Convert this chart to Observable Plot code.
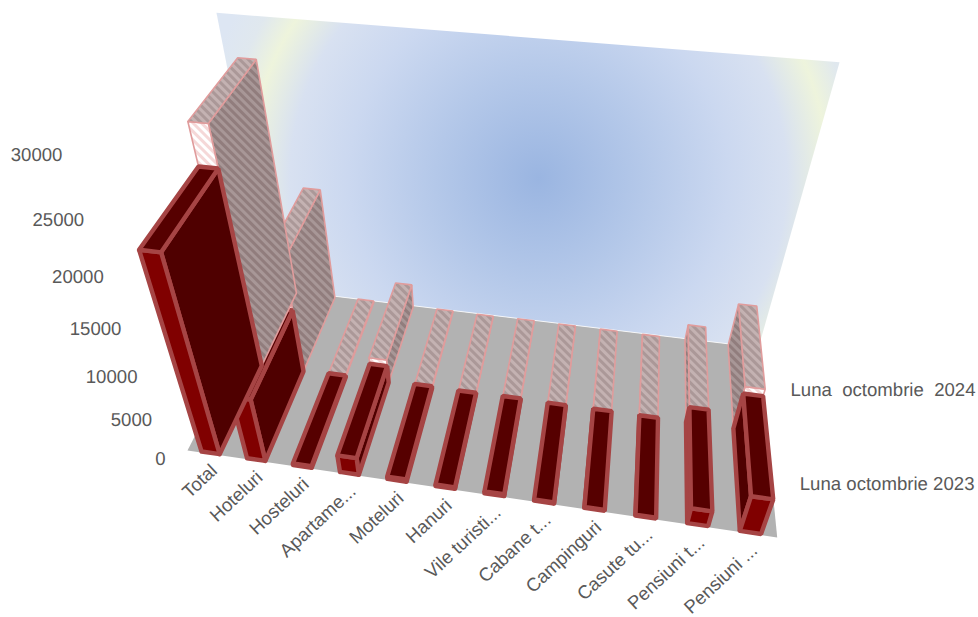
<!DOCTYPE html>
<html><head><meta charset="utf-8">
<style>html,body{margin:0;padding:0;background:#fff}svg{display:block}svg text{white-space:pre;text-rendering:geometricPrecision}</style>
<script src="https://cdn.jsdelivr.net/npm/d3@7"></script>
<script src="https://cdn.jsdelivr.net/npm/@observablehq/plot@0.6"></script>
</head><body><div id="chart"></div>
<script>
const categories = ["Total","Hoteluri","Hosteluri","Apartame...","Moteluri","Hanuri","Vile turisti...","Cabane t...","Campinguri","Casute tu...","Pensiuni t...","Pensiuni ..."];
const values2023 = [22150,7720,200,2200,300,200,250,150,150,100,1990,4530];
const values2024 = [26200,13380,200,2980,150,100,150,120,100,80,2040,5380];
const ticks = [0,5000,10000,15000,20000,25000,30000];
const seriesNames = ["Luna octombrie 2023","Luna  octombrie  2024"];
const axisMax = 30000;

// camera: floor corners and vertical column of a projective map
const floor = {x:[187,776.7,758,270], y:[450,537,347,288]};
const vert = {x:-119.2, y:-335.4, w:-0.2504};
const [x0,x1,x2,x3]=floor.x,[y0,y1,y2,y3]=floor.y;
const sx=x0-x1+x2-x3, sy=y0-y1+y2-y3, dx1=x1-x2, dx2=x3-x2, dy1=y1-y2, dy2=y3-y2, det=dx1*dy2-dx2*dy1;
const g=(sx*dy2-dx2*sy)/det, h=(dx1*sy-sx*dy1)/det;
const a=x1-x0+g*x1, b=x3-x0+h*x3, d_=y1-y0+g*y1, e=y3-y0+h*y3;
function project(u,d,v){
  const w=g*u+h*d+1+vert.w*v;
  return [(a*u+b*d+x0+vert.x*v)/w,(d_*u+e*d+y0+vert.y*v)/w];
}
const barHalf=0.2/12;
function poly(id,fill,pts,closed=true){
  const r=pts.map(p=>project(...p));
  return (closed?r.concat([r[0]]):r).map(([x,y])=>({id,fill,x,y}));
}
function area(f){const p=f.slice(0,-1);let s=0;p.forEach((q,i)=>{const n=p[(i+1)%p.length];s+=q.x*n.y-n.x*q.y;});return s/2;}
function barFaces(i,val,d0,d1,fills,key){
  const c=(i+0.5)/12,u0=c-barHalf,u1=c+barHalf,v=val/axisMax;
  const top=poly(key+i+"t",fills.top,[[u0,d0,v],[u1,d0,v],[u1,d1,v],[u0,d1,v]]);
  const s=Math.sign(area(top));
  const right=poly(key+i+"r",fills.side,[[u1,d0,0],[u1,d1,0],[u1,d1,v],[u1,d0,v]]);
  const left=poly(key+i+"l",fills.side,[[u0,d1,0],[u0,d0,0],[u0,d0,v],[u0,d1,v]]);
  const front=poly(key+i+"f",fills.front,[[u0,d0,0],[u1,d0,0],[u1,d0,v],[u0,d0,v]]);
  const out=[];
  if(Math.sign(area(left))===s) out.push(...left);
  if(Math.sign(area(right))===s) out.push(...right);
  out.push(...front,...top);
  return out;
}
const order=d3.range(categories.length).reverse();
const stage=[...poly("wall","url(#wall)",[[0,1,0],[1,1,0],[1,1,1],[0,1,1]]),...poly("floor","#b2b2b2",[[0,0,0],[1,0,0],[1,1,0],[0,1,0]])];
const backEdge=poly("edge","none",[[0,1,0],[1,1,0]],false);

const tickPoint=t=>{const v=t/axisMax,w=1-0.2529*v;return [(165-118.7*v)/w,(459-343.2*v)/w];};
const catPoint=i=>project((i+0.5)/12,0,0);
const rowPoint=s=>project(1,s===0?0.25:0.75,0);
const font='"Liberation Sans",Arial,sans-serif';
const lineOpts=(extra)=>({x:"x",y:"y",z:"id",fill:{value:"fill",scale:null},curve:"linear",...extra});
// painter's order as in the original: right to left, each category's back bar then its front bar
const barMarks=order.flatMap(i=>[
  Plot.line(barFaces(i,values2024[i],0.5,0.99,{top:"url(#hTop)",side:"url(#hSide)",front:"url(#hFront)"},"b"),lineOpts({stroke:"#e09c9c",strokeWidth:1.6,strokeLinejoin:"miter"})),
  Plot.line(barFaces(i,values2023[i],0.005,0.5,{top:"#560000",side:"#4f0000",front:"#800000"},"a"),lineOpts({stroke:"#a64444",strokeWidth:4.4,strokeLinejoin:"miter"}))
]);

const chart=Plot.plot({
  width:978,height:617,margin:0,
  x:{type:"linear",domain:[0,978],range:[0,978],axis:null},
  y:{type:"linear",domain:[0,617],range:[0,617],axis:null},
  style:{background:"#fff",fontFamily:font},
  marks:[
    Plot.line(stage,lineOpts({stroke:"none"})),
    Plot.line(backEdge,{x:"x",y:"y",stroke:"#fff",strokeWidth:1,strokeOpacity:0.8}),
    ...barMarks,
    Plot.text(ticks,{x:t=>tickPoint(t)[0],y:t=>tickPoint(t)[1],text:t=>String(t),textAnchor:"end",fontSize:18.6,fill:"#595959"}),
    Plot.text(categories,{x:(c,i)=>catPoint(i)[0],y:(c,i)=>catPoint(i)[1],text:c=>c,rotate:-43,textAnchor:"end",dx:4,dy:14,fontSize:18.6,fill:"#595959"}),
    Plot.text(seriesNames,{x:(s,i)=>rowPoint(i)[0],y:(s,i)=>rowPoint(i)[1],text:s=>s,textAnchor:"start",dx:28,dy:2,fontSize:18.6,fill:"#595959"})
  ]
});
const defs=d3.select(chart).insert("defs",":first-child");
const wg=defs.append("radialGradient").attr("id","wall").attr("gradientUnits","userSpaceOnUse").attr("cx",538).attr("cy",178).attr("r",345);
[[0,"#9ab5e1"],[0.3,"#b4c8e9"],[0.55,"#cbd8f0"],[0.72,"#d8e1f1"],[0.84,"#eef4dc"],[0.92,"#e0e8ee"],[1,"#dde6f3"]].forEach(([o,c])=>wg.append("stop").attr("offset",o).attr("stop-color",c));
[["hTop","#c4b2b2","#ab9898"],["hSide","#a89797","#917d7d"],["hFront","#ffffff","#f5d8d8"]].forEach(([id,bg,fg])=>{
  const p=defs.append("pattern").attr("id",id).attr("patternUnits","userSpaceOnUse").attr("width",6).attr("height",6).attr("patternTransform","rotate(-45)");
  p.append("rect").attr("width",6).attr("height",6).attr("fill",bg);
  p.append("rect").attr("width",3).attr("height",6).attr("fill",fg);
});
document.getElementById("chart").append(chart);
</script></body></html>
